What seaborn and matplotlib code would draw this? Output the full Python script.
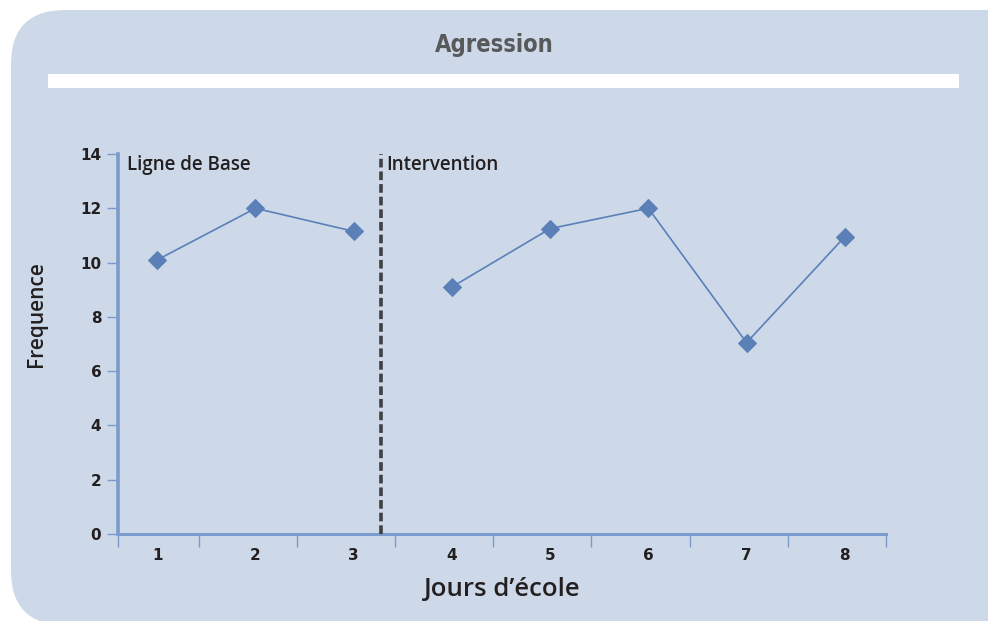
import matplotlib
matplotlib.use('Agg')

import numpy as np
import pandas as pd
import matplotlib.pyplot as plt
import seaborn as sns
from matplotlib.patches import FancyBboxPatch, Rectangle
from matplotlib.ticker import FixedLocator

# --- Données ---
jours_base = [1, 2, 3]
freq_base = [10.1, 12.0, 11.15]
jours_interv = [4, 5, 6, 7, 8]
freq_interv = [9.1, 11.25, 12.0, 7.05, 10.95]
y_ticks = [0, 2, 4, 6, 8, 10, 12, 14]
x_labels = ['1', '2', '3', '4', '5', '6', '7', '8']

titre = 'Agression'
label_base = 'Ligne de Base'
label_interv = 'Intervention'
label_x = 'Jours d\u2019école'
label_y = 'Frequence'

df = pd.DataFrame({
    'jour': jours_base + jours_interv,
    'freq': freq_base + freq_interv,
    'phase': ['base'] * len(jours_base) + ['intervention'] * len(jours_interv),
})

# --- Style ---
PANEL = '#cdd9e8'
AXE = '#7a9bcb'
LIGNE = '#5b80b8'
TEXTE = '#231f20'
NARROW = ['Liberation Sans Narrow', 'DejaVu Sans']

sns.set_style('white')
plt.rcParams['font.family'] = ['Open Sans', 'DejaVu Sans']

fig = plt.figure(figsize=(9.88, 6.21), dpi=100)
fig.patch.set_facecolor('white')

W, H = 988, 621
# panneau arrondi
fig.patches.append(FancyBboxPatch((11 / W, -4 / H), 1.2, (611 + 4) / H,
                                  boxstyle='round,pad=0,rounding_size=0.055',
                                  transform=fig.transFigure, facecolor=PANEL,
                                  edgecolor='none', zorder=-2,
                                  mutation_aspect=W / H))
fig.patches.append(Rectangle((48 / W, 1 - 88 / H), (959 - 48) / W, 14 / H,
                             transform=fig.transFigure, facecolor='white',
                             edgecolor='none', zorder=-1))
fig.text(0.5, 1 - 45 / H, titre, ha='center', va='center', fontsize=17,
         fontweight='bold', color='#58595b', family=NARROW, stretch='condensed')

ax = fig.add_axes([118 / W, 1 - 534 / H, (886 - 118) / W, (534 - 154) / H])
ax.set_facecolor('none')
ax.set_zorder(2)

sns.lineplot(data=df, x='jour', y='freq', units='phase', estimator=None,
             color=LIGNE, marker='D', markersize=9, markeredgecolor=LIGNE,
             linewidth=1.2, ax=ax, legend=False)

ax.set_xlim(0.6, 8.42)
ax.set_ylim(0, 14)
ax.axvline(3.28, color='#3f4145', linestyle=(0, (2.4, 1.1)), linewidth=2.6, zorder=3)

for s in ['top', 'right']:
    ax.spines[s].set_visible(False)
ax.spines['left'].set_color(AXE)
ax.spines['left'].set_linewidth(2.6)
ax.spines['bottom'].set_color(AXE)
ax.spines['bottom'].set_linewidth(2.2)

ax.set_yticks(y_ticks)
ax.set_yticklabels([str(v) for v in y_ticks])
ax.tick_params(axis='y', length=8, width=1, color=AXE, pad=4, left=True)
ax.set_xticks(range(1, 9))
ax.set_xticklabels(x_labels)
ax.xaxis.set_minor_locator(FixedLocator([0.6] + [n + 0.42 for n in range(1, 9)]))
ax.tick_params(axis='x', which='major', length=0, pad=10)
ax.tick_params(axis='x', which='minor', length=9, width=1, color=AXE, bottom=True)
for lab in ax.get_xticklabels() + ax.get_yticklabels():
    lab.set_family(NARROW)
    lab.set_fontweight('bold')
    lab.set_fontsize(11)
    lab.set_color(TEXTE)

ax.set_xlabel(label_x, fontsize=18.5, fontweight='semibold', color=TEXTE, labelpad=10)
ax.set_ylabel(label_y, fontsize=15, fontweight='semibold', color=TEXTE)
ax.yaxis.set_label_coords(-0.093, 0.579)

ax.text(0.69, 13.6, label_base, fontsize=13.5, fontweight='semibold', color=TEXTE, va='center')
ax.text(3.33, 13.6, label_interv, fontsize=13.5, fontweight='semibold', color=TEXTE, va='center')

fig.savefig('out.png', dpi=100)
